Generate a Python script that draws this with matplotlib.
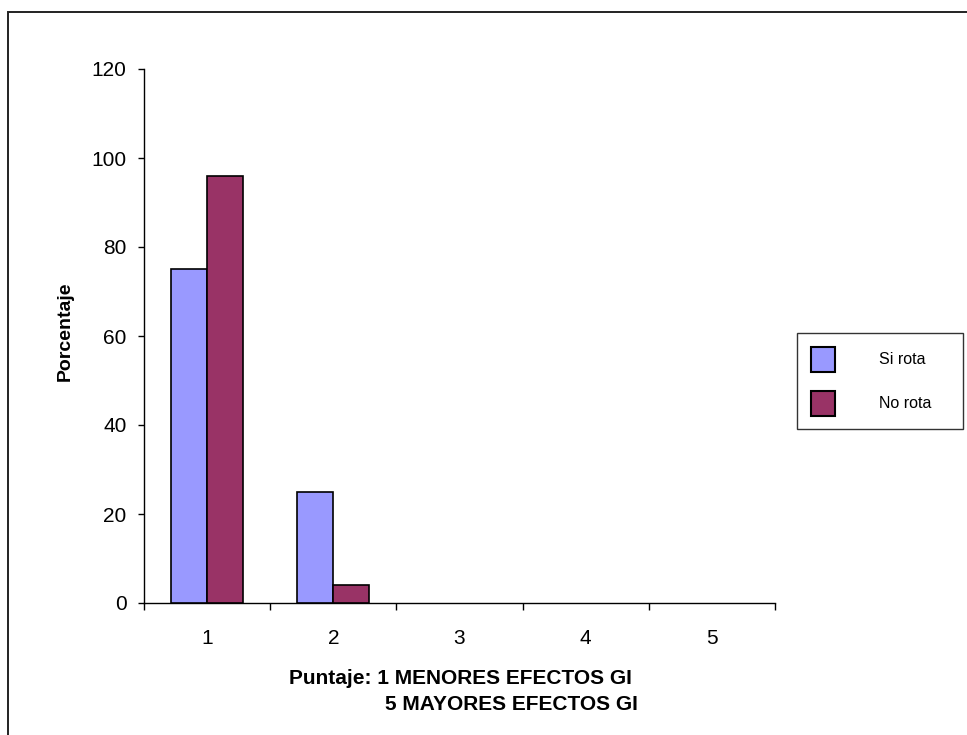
import matplotlib
matplotlib.use("Agg")
import matplotlib.pyplot as plt
from matplotlib.patches import Rectangle
import numpy as np

plt.rcParams['font.family'] = ['Liberation Sans', 'DejaVu Sans']

categories = ["1", "2", "3", "4", "5"]
si_rota = [75, 25, 0, 0, 0]
no_rota = [96, 4, 0, 0, 0]
series_names = ["Si rota", "No rota"]
y_ticks = [0, 20, 40, 60, 80, 100, 120]

W, H = 967, 735
fig = plt.figure(figsize=(W / 100, H / 100), dpi=100)

# outer chart border (runs off the right and bottom edges)
fig.patches.append(Rectangle((8 / W, -1.0), 2.0, 2 - 12 / H, transform=fig.transFigure,
                             fill=False, edgecolor="#222222", linewidth=1.4, zorder=0))

ax = fig.add_axes([144 / W, (H - 603) / H, (775 - 144) / W, (603 - 69) / H])

x = np.arange(len(categories))
bw = 0.285


def edge_widths(vals):
    # no outline for empty bars so the axis line stays clean
    return [1.2 if v > 0 else 0 for v in vals]


ax.bar(x - bw / 2, si_rota, width=bw, color="#9999FF", edgecolor="black",
       linewidth=edge_widths(si_rota), label=series_names[0], zorder=3)
ax.bar(x + bw / 2, no_rota, width=bw, color="#993366", edgecolor="black",
       linewidth=edge_widths(no_rota), label=series_names[1], zorder=3)

ax.set_xlim(-0.5, len(categories) - 0.5)
ax.set_ylim(0, 120)
ax.set_yticks(y_ticks)
ax.tick_params(axis="y", direction="out", length=4.5, width=1, labelsize=15, pad=8)

# category labels centered, tick marks at the category boundaries
ax.set_xticks(x)
ax.set_xticklabels(categories, fontsize=15)
ax.tick_params(axis="x", which="major", length=0, pad=19)
ax.set_xticks(np.arange(len(categories) + 1) - 0.5, minor=True)
ax.tick_params(axis="x", which="minor", direction="out", length=5, width=1)

for s in ["top", "right"]:
    ax.spines[s].set_visible(False)
ax.spines["left"].set_linewidth(1)
ax.spines["bottom"].set_linewidth(1)

fig.text(65 / W, 1 - 331 / H, "Porcentaje", rotation=90, ha="center", va="center",
         fontsize=14, fontweight="bold")

fig.text(460 / W, 1 - 678 / H, "Puntaje: 1 MENORES EFECTOS GI", ha="center", va="center",
         fontsize=15, fontweight="bold")
fig.text(511 / W, 1 - 705 / H, "5 MAYORES EFECTOS GI", ha="center", va="center",
         fontsize=15, fontweight="bold")

leg = fig.legend(loc="upper left", bbox_to_anchor=(797 / W, 1 - 431 / H, 166 / W, 98 / H),
                 mode="expand", fontsize=11.5, handlelength=1.56, handleheight=2.03,
                 handletextpad=2.75, labelspacing=1.19, borderpad=0.85, borderaxespad=0,
                 fancybox=False, frameon=True)
leg.get_frame().set_edgecolor("black")
leg.get_frame().set_linewidth(1)
for p in leg.get_patches():
    p.set_linewidth(1.5)

fig.savefig("out.png", dpi=100)
